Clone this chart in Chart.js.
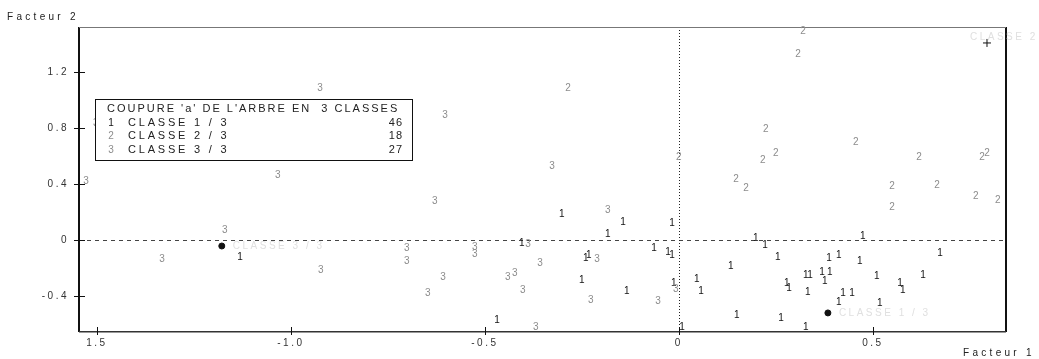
<!DOCTYPE html>
<html><head><meta charset="utf-8">
<script src="https://cdn.jsdelivr.net/npm/chart.js@4"></script>
<style>html,body{margin:0;padding:0;background:#fff}canvas{display:block}</style>
</head><body>
<canvas id="c" width="1039" height="359"></canvas>
<script>
// ---- data ----
const class1X = [-0.302,-0.144,-0.018,-0.183,-0.405,-0.064,-0.028,-0.018,-0.240,-0.232,-0.250,-0.134,-0.469,0.008,-0.013,0.198,0.222,0.255,0.134,0.387,0.412,0.466,0.327,0.338,0.369,0.389,0.376,0.046,0.057,0.278,0.284,0.332,0.423,0.446,0.412,0.149,0.263,0.327,0.474,0.673,0.629,0.510,0.570,0.577,0.518,-1.131];
const class1Y = [0.186,0.129,0.121,0.043,-0.021,-0.057,-0.086,-0.107,-0.129,-0.107,-0.286,-0.364,-0.571,-0.621,-0.307,0.014,-0.036,-0.121,-0.186,-0.129,-0.107,-0.150,-0.250,-0.250,-0.229,-0.229,-0.293,-0.279,-0.364,-0.307,-0.343,-0.371,-0.379,-0.379,-0.443,-0.536,-0.557,-0.621,0.029,-0.093,-0.250,-0.257,-0.307,-0.357,-0.450,-0.121];
const class2X = [-0.286,0.320,0.307,0.224,0.456,0.250,0.216,0.619,0.781,0.794,0.000,0.147,0.173,0.549,0.665,0.549,0.765,0.822];
const class2Y = [1.086,1.493,1.329,0.793,0.700,0.621,0.571,0.593,0.593,0.621,0.593,0.436,0.371,0.386,0.393,0.236,0.314,0.286];
const class3X = [-1.528,-0.925,-0.603,-0.327,-1.034,-1.170,-1.332,-0.923,-0.629,-0.701,-0.701,-0.526,-0.526,-0.608,-0.647,-0.441,-0.423,-0.402,-0.358,-0.389,-0.211,-0.183,-0.369,-0.227,-0.054,-0.008,-1.503];
const class3Y = [0.421,1.086,0.893,0.529,0.464,0.071,-0.136,-0.214,0.279,-0.057,-0.150,-0.050,-0.100,-0.264,-0.379,-0.264,-0.236,-0.357,-0.164,-0.029,-0.136,0.214,-0.621,-0.429,-0.436,-0.350,0.836];
const centroidX = [0.384, 0.794, -1.178];
const centroidY = [-0.521, 1.407, -0.043];
const centroidLabels = ['CLASSE 1 / 3','CLASSE 2 / 3','CLASSE 3 / 3'];
const classSymbols = ['1','2','3'];
const legendTitle = "COUPURE 'a' DE L'ARBRE EN  3 CLASSES";
const legendClasses = ['CLASSE 1 / 3','CLASSE 2 / 3','CLASSE 3 / 3'];
const legendCounts = ['46','18','27'];
const xTickValues = [-1.5,-1.0,-0.5,0,0.5];
const xTickLabels = ['1.5','-1.0','-0.5','0','0.5'];
const yTickValues = [-0.4,0,0.4,0.8,1.2];
const yTickLabels = ['-0.4','0','0.4','0.8','1.2'];
const xAxisTitle = 'Facteur 1';
const yAxisTitle = 'Facteur 2';

const FONT = '"Liberation Sans", Arial, sans-serif';
const symbolColors = ['#111111','#8c8c8c','#8c8c8c'];

function pts(xs, ys){ return xs.map((v,i)=>({x:v, y:ys[i]})); }

const decor = {
  id:'decor',
  beforeDraw(chart){ chart.ctx.letterSpacing = '2.5px'; },
  beforeDatasetsDraw(chart){
    const {ctx, chartArea:a, scales:{x, y}} = chart;
    ctx.save();
    const x0 = Math.round(x.getPixelForValue(0)), y0 = Math.round(y.getPixelForValue(0));
    ctx.lineWidth = 1;
    ctx.strokeStyle = '#444'; ctx.setLineDash([4,4]);
    ctx.beginPath(); ctx.moveTo(a.left, y0+0.5); ctx.lineTo(a.right, y0+0.5); ctx.stroke();
    ctx.strokeStyle = '#222'; ctx.setLineDash([1,2]);
    ctx.beginPath(); ctx.moveTo(x0+0.5, a.top); ctx.lineTo(x0+0.5, a.bottom); ctx.stroke();
    ctx.setLineDash([]);
    // frame
    ctx.fillStyle = '#111';
    ctx.fillRect(a.left-1, a.top, 2, a.bottom-a.top+1);
    ctx.fillRect(a.right-1, a.top, 2, a.bottom-a.top+1);
    ctx.fillStyle = '#333';
    ctx.fillRect(a.left, a.bottom, a.right-a.left, 1.5);
    ctx.fillStyle = '#777';
    ctx.fillRect(a.left, a.top, a.right-a.left, 1);
    // tick marks crossing the axes
    ctx.strokeStyle = '#111'; ctx.lineWidth = 1;
    yTickValues.forEach(v=>{ const py = Math.round(y.getPixelForValue(v))+0.5;
      ctx.beginPath(); ctx.moveTo(a.left-5, py); ctx.lineTo(a.left+6, py); ctx.stroke(); });
    xTickValues.forEach(v=>{ const px = Math.round(x.getPixelForValue(v))+0.5;
      ctx.beginPath(); ctx.moveTo(px, a.bottom-4); ctx.lineTo(px, a.bottom+4); ctx.stroke(); });
    ctx.restore();
  },
  afterDatasetsDraw(chart){
    const {ctx} = chart;
    ctx.save();
    ctx.letterSpacing = '0px';
    ctx.textAlign = 'center'; ctx.textBaseline = 'middle';
    ctx.font = '10px ' + FONT;
    // class digits
    for (let d = 0; d < 3; d++) {
      const meta = chart.getDatasetMeta(d);
      ctx.fillStyle = symbolColors[d];
      meta.data.forEach(el => ctx.fillText(classSymbols[d], el.x, el.y));
    }
    // faint centroid labels
    const cm = chart.getDatasetMeta(3);
    ctx.textAlign = 'left'; ctx.letterSpacing = '2.5px'; ctx.fillStyle = '#e0e0e0';
    cm.data.forEach((el, i) => {
      if (i === 1) ctx.fillText(centroidLabels[i], el.x - 17, el.y - 6);
      else ctx.fillText(centroidLabels[i], el.x + 11, el.y);
    });
    // legend box
    ctx.letterSpacing = '0px';
    ctx.fillStyle = '#fff'; ctx.fillRect(95, 99, 317, 61);
    ctx.strokeStyle = '#111'; ctx.lineWidth = 1; ctx.strokeRect(95.5, 99.5, 317, 61);
    ctx.font = '11px ' + FONT; ctx.textBaseline = 'middle';
    ctx.fillStyle = '#222'; ctx.textAlign = 'left'; ctx.letterSpacing = '2px';
    ctx.fillText(legendTitle, 107, 109);
    const rowsY = [123, 136, 150];
    legendClasses.forEach((lab, i) => {
      ctx.letterSpacing = '0px'; ctx.textAlign = 'center'; ctx.font = '10px ' + FONT;
      ctx.fillStyle = symbolColors[i];
      ctx.fillText(classSymbols[i], 111, rowsY[i]);
      ctx.font = '11px ' + FONT; ctx.fillStyle = '#222';
      ctx.textAlign = 'left'; ctx.letterSpacing = '2.8px';
      ctx.fillText(lab, 128, rowsY[i]);
      ctx.textAlign = 'right'; ctx.letterSpacing = '1px';
      ctx.fillText(legendCounts[i], 403, rowsY[i]);
    });
    // axis titles
    ctx.font = '10px ' + FONT; ctx.fillStyle = '#222'; ctx.textAlign = 'left';
    ctx.letterSpacing = '3.3px';
    ctx.fillText(yAxisTitle, 7, 17);
    ctx.fillText(xAxisTitle, 963, 353);
    ctx.restore();
  }
};

new Chart(document.getElementById('c'), {
  type: 'scatter',
  data: { datasets: [
    { label: legendClasses[0], data: pts(class1X, class1Y), pointRadius: 0, pointHoverRadius: 0 },
    { label: legendClasses[1], data: pts(class2X, class2Y), pointRadius: 0, pointHoverRadius: 0 },
    { label: legendClasses[2], data: pts(class3X, class3Y), pointRadius: 0, pointHoverRadius: 0 },
    { label: 'centres', data: pts(centroidX, centroidY), pointStyle: ['circle','cross','circle'],
      pointRadius: [3, 4, 3], pointBackgroundColor: '#111', pointBorderColor: '#111', pointBorderWidth: 1 }
  ]},
  options: {
    responsive: false, animation: false, devicePixelRatio: 1, events: [],
    layout: { padding: { left: 0, top: 27, right: 33, bottom: 0 } },
    plugins: { legend: { display: false }, tooltip: { enabled: false } },
    scales: {
      x: { type: 'linear', min: -1.546, max: 0.843,
        afterBuildTicks: s => { s.ticks = xTickValues.map(v => ({ value: v })); },
        afterFit: s => { s.height = 28; },
        grid: { display: false, drawTicks: false }, border: { display: false },
        ticks: { autoSkip: false, maxRotation: 0, minRotation: 0, padding: 6, color: '#333',
          font: { family: FONT, size: 10 },
          callback: v => xTickLabels[xTickValues.findIndex(t => Math.abs(t - v) < 1e-9)] } },
      y: { type: 'linear', min: -0.65, max: 1.521,
        afterBuildTicks: s => { s.ticks = yTickValues.map(v => ({ value: v })); },
        afterFit: s => { s.width = 79; },
        grid: { display: false, drawTicks: false }, border: { display: false },
        ticks: { autoSkip: false, padding: 10, color: '#333',
          font: { family: FONT, size: 10 },
          callback: v => yTickLabels[yTickValues.findIndex(t => Math.abs(t - v) < 1e-9)] } }
    }
  },
  plugins: [decor]
});
</script>
</body></html>
